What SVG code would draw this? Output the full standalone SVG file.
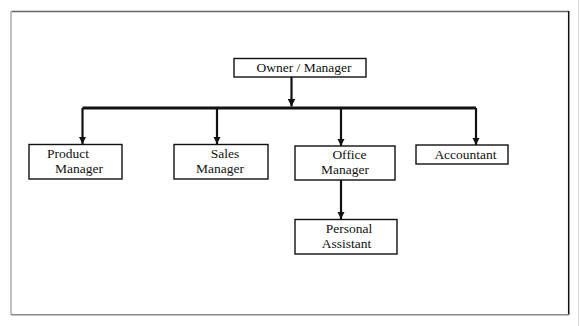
<svg xmlns="http://www.w3.org/2000/svg" width="580" height="326" viewBox="0 0 580 326">
<style>
.box{fill:#fff;stroke:#111;stroke-width:1.4}
.t{font-family:"Liberation Serif","DejaVu Serif",serif;font-size:13.5px;fill:#111;text-anchor:middle}
.c{stroke:#111;stroke-width:2.2;fill:none}
.bus{stroke:#111;stroke-width:3;fill:none}
</style>
<defs>
<marker id="ah" viewBox="0 0 10 10" refX="10" refY="5" markerWidth="3.4" markerHeight="3.4" markerUnits="strokeWidth" orient="auto">
<path d="M0,0 L10,5 L0,10 Z" fill="#111"/>
</marker>
</defs>
<rect width="580" height="326" fill="#fff"/>
<g id="frame">
<line x1="11" y1="11.5" x2="569" y2="11.5" stroke="#666" stroke-width="1.5"/>
<line x1="11" y1="11" x2="11" y2="315" stroke="#bbb" stroke-width="1.8"/>
<line x1="568.7" y1="11" x2="568.7" y2="315" stroke="#111" stroke-width="1.5"/>
<line x1="11" y1="314.7" x2="569" y2="314.7" stroke="#888" stroke-width="1.5"/>
<line x1="578.5" y1="0" x2="578.5" y2="326" stroke="#ddd" stroke-width="1"/>
</g>
<g id="connectors">
<line class="c" x1="291.5" y1="77" x2="291.5" y2="106.5" marker-end="url(#ah)"/>
<polyline class="bus" points="82.5,108 476,108"/>
<line class="c" x1="82.5" y1="108" x2="82.5" y2="144" marker-end="url(#ah)"/>
<line class="c" x1="217" y1="108" x2="217" y2="144" marker-end="url(#ah)"/>
<line class="c" x1="341" y1="108" x2="341" y2="146" marker-end="url(#ah)"/>
<line class="c" x1="476" y1="108" x2="476" y2="145" marker-end="url(#ah)"/>
<line class="c" x1="341" y1="180" x2="341" y2="219" marker-end="url(#ah)"/>
</g>
<g id="owner">
<rect class="box" x="234" y="58.5" width="132" height="18.5"/>
<text class="t" x="304" y="72">Owner / Manager</text>
</g>
<g id="product-manager">
<rect class="box" x="29" y="144.5" width="93" height="34.5"/>
<text class="t" x="68" y="158">Product</text>
<text class="t" x="79" y="173">Manager</text>
</g>
<g id="sales-manager">
<rect class="box" x="174" y="144.5" width="94" height="34.5"/>
<text class="t" x="225" y="158">Sales</text>
<text class="t" x="220" y="173">Manager</text>
</g>
<g id="office-manager">
<rect class="box" x="295" y="146" width="100" height="34"/>
<text class="t" x="349.5" y="159">Office</text>
<text class="t" x="345" y="174">Manager</text>
</g>
<g id="accountant">
<rect class="box" x="416" y="145" width="92" height="19"/>
<text class="t" x="465.5" y="158.5">Accountant</text>
</g>
<g id="personal-assistant">
<rect class="box" x="295" y="219.5" width="102" height="34.5"/>
<text class="t" x="349" y="233">Personal</text>
<text class="t" x="346.5" y="247.5">Assistant</text>
</g>
</svg>
